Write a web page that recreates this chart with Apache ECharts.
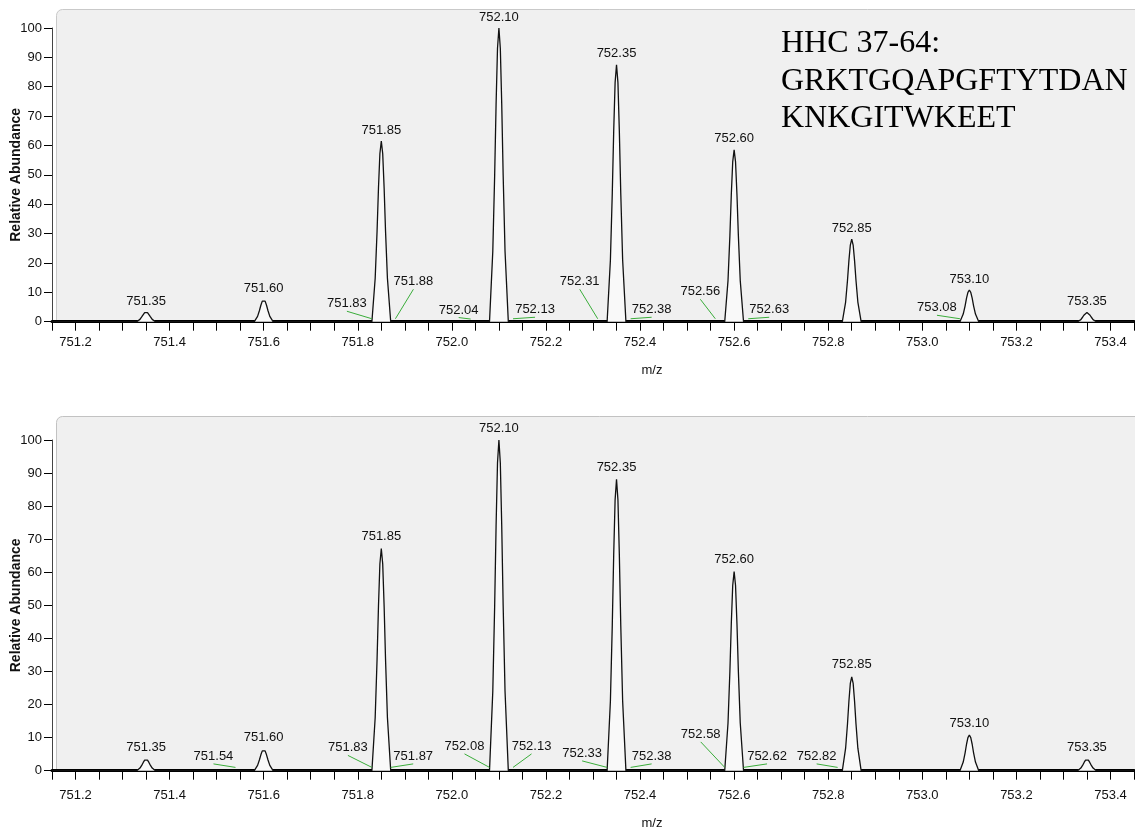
<!DOCTYPE html>
<html>
<head>
<meta charset="utf-8">
<style>
  html, body { margin: 0; padding: 0; background: #ffffff; }
  #chart { width: 1135px; height: 831px; }
</style>
<script src="https://cdn.jsdelivr.net/npm/echarts@6/dist/echarts.min.js"></script>
</head>
<body>
<div id="chart"></div>
<script>
// Isotope cluster of HHC 37-64, two acquisitions (upper / lower spectrum)

// m/z sample offsets around each peak apex (profile sampling grid)
const profileOffsets = [-0.02, -0.013, -0.009, -0.006, -0.003, 0, 0.003, 0.006, 0.009, 0.013, 0.02];

// labelled centroids and their apex abundances
const peakMz = [751.35, 751.60, 751.85, 752.10, 752.35, 752.60, 752.85, 753.10, 753.35];
const peakTopA = [3.3, 7.5, 61.5, 100, 87.5, 58.5, 28.1, 10.8, 3.1];
const peakTopB = [3.4, 6.5, 67.2, 100, 88.1, 60.2, 28.4, 10.8, 3.4];

// profile intensities on the sampling grid, one row per peak
const profileA = [
  [0, 0.8, 1.7, 2.4, 3.1, 3.3, 3.1, 2.4, 1.7, 0.8, 0],
  [0, 1.8, 3.8, 5.6, 7.0, 7.5, 7.0, 5.6, 3.8, 1.8, 0],
  [0, 14.8, 30.8, 45.5, 57.2, 61.5, 57.2, 45.5, 30.8, 14.8, 0],
  [0, 24, 50, 74, 93, 100, 93, 74, 50, 24, 0],
  [0, 21, 43.8, 64.8, 81.4, 87.5, 81.4, 64.8, 43.8, 21, 0],
  [0, 14, 29.3, 43.3, 54.4, 58.5, 54.4, 43.3, 29.3, 14, 0],
  [0, 6.7, 14.1, 20.8, 26.1, 28.1, 26.1, 20.8, 14.1, 6.7, 0],
  [0, 2.6, 5.4, 8.0, 10.0, 10.8, 10.0, 8.0, 5.4, 2.6, 0],
  [0, 0.7, 1.6, 2.3, 2.9, 3.1, 2.9, 2.3, 1.6, 0.7, 0]
];
const profileB = [
  [0, 0.8, 1.7, 2.5, 3.2, 3.4, 3.2, 2.5, 1.7, 0.8, 0],
  [0, 1.6, 3.3, 4.8, 6.0, 6.5, 6.0, 4.8, 3.3, 1.6, 0],
  [0, 16.1, 33.6, 49.7, 62.5, 67.2, 62.5, 49.7, 33.6, 16.1, 0],
  [0, 24, 50, 74, 93, 100, 93, 74, 50, 24, 0],
  [0, 21.1, 44.1, 65.2, 81.9, 88.1, 81.9, 65.2, 44.1, 21.1, 0],
  [0, 14.4, 30.1, 44.5, 56.0, 60.2, 56.0, 44.5, 30.1, 14.4, 0],
  [0, 6.8, 14.2, 21.0, 26.4, 28.4, 26.4, 21.0, 14.2, 6.8, 0],
  [0, 2.6, 5.4, 8.0, 10.0, 10.8, 10.0, 8.0, 5.4, 2.6, 0],
  [0, 0.8, 1.7, 2.5, 3.2, 3.4, 3.2, 2.5, 1.7, 0.8, 0]
];

// minor centroids annotated with leader lines
const minorMzA = [751.83, 751.88, 752.04, 752.13, 752.31, 752.38, 752.56, 752.63, 753.08];
const minorTopA = [1, 1, 0.9, 1, 1, 1, 1, 1, 1];
const minorMzB = [751.54, 751.83, 751.87, 752.08, 752.13, 752.33, 752.38, 752.58, 752.62, 752.82];
const minorTopB = [1, 1, 1, 1, 1, 1, 1, 1, 1, 1];

// label placement for the minor centroids: pixel offset of the label centre from its point
const minorLabelOffsetA = [[-25, -15], [18, -37], [-12, -9], [22, -9], [-18, -37], [21, -9], [-15, -27], [21, -9], [-23, -11]];
const minorLabelOffsetB = [[-22, -11], [-24, -19.5], [22.5, -11], [-25, -21], [18.5, -21], [-25, -14], [21, -11], [-24, -33], [23.5, -11], [-21, -11]];

const yTicks = { min: 0, max: 100, step: 10 };
const xRange = { min: 751.15, max: 753.45, step: 0.05 };

const SANS = "'Liberation Sans', Arial, sans-serif";
const TEXT = '#111111';
const LEADER = '#3aad3a';

function buildProfile(rows) {
  const pts = [[xRange.min, 0]];
  rows.forEach((row, i) => {
    row.forEach((v, j) => {
      pts.push([+(peakMz[i] + profileOffsets[j]).toFixed(4), v]);
    });
  });
  pts.push([xRange.max, 0]);
  return pts;
}

function xLabel(v) {
  const k = Math.round(v * 20);
  return k % 4 === 0 ? (k / 20).toFixed(1) : '';
}

function makeXAxis(gridIndex, margin, nameGap) {
  return {
    type: 'value', gridIndex,
    min: xRange.min, max: xRange.max, interval: xRange.step,
    name: 'm/z', nameLocation: 'middle', nameGap, nameMoveOverlap: false,
    nameTextStyle: { color: TEXT, fontFamily: SANS, fontSize: 13, padding: [0, 0, 0, 118] },
    axisLine: { show: true, onZero: false, lineStyle: { color: '#000', width: 3 } },
    axisTick: { show: true, length: 9, lineStyle: { color: '#000', width: 1 } },
    axisLabel: { formatter: xLabel, margin, color: TEXT, fontFamily: SANS, fontSize: 13,
      showMinLabel: true, showMaxLabel: true, hideOverlap: false },
    splitLine: { show: false }
  };
}

function makeYAxis(gridIndex) {
  return {
    type: 'value', gridIndex,
    min: yTicks.min, max: yTicks.max, interval: yTicks.step,
    name: 'Relative Abundance', nameLocation: 'middle', nameGap: 29, nameMoveOverlap: false,
    nameTextStyle: { color: TEXT, fontFamily: SANS, fontSize: 14, fontWeight: 'bold' },
    axisLine: { show: true, lineStyle: { color: '#444', width: 1 } },
    axisTick: { show: true, length: 8, lineStyle: { color: '#000' } },
    axisLabel: { margin: 10, color: TEXT, fontFamily: SANS, fontSize: 13 },
    splitLine: { show: false }
  };
}

// apex labels sit just above each peak
function apexRenderer(lift) {
  return function (params, api) {
    const p = api.coord([api.value(0), api.value(1)]);
    return {
      type: 'text',
      style: { text: api.value(0).toFixed(2), x: p[0], y: p[1] - lift,
        align: 'center', verticalAlign: 'middle', fill: TEXT, font: '13px ' + SANS }
    };
  };
}

// minor centroids: displaced label with a green guide line to its point
function leaderRenderer(offsets) {
  return function (params, api) {
    const p = api.coord([api.value(0), api.value(1)]);
    const off = offsets[params.dataIndex];
    const cx = p[0] + off[0];
    const cy = p[1] + off[1];
    return {
      type: 'group',
      children: [
        { type: 'line', shape: { x1: cx, y1: cy + 7.5, x2: p[0], y2: p[1] },
          style: { stroke: LEADER, lineWidth: 1 } },
        { type: 'text', style: { text: api.value(0).toFixed(2), x: cx, y: cy,
          align: 'center', verticalAlign: 'middle', fill: TEXT, font: '13px ' + SANS } }
      ]
    };
  };
}

function spectrumSeries(idx, rows, tops, minorMz, minorTop, offsets, lift) {
  return [
    {
      type: 'line', xAxisIndex: idx, yAxisIndex: idx,
      data: buildProfile(rows), symbol: 'none', silent: true,
      lineStyle: { color: '#111', width: 1.3 },
      areaStyle: { color: '#f9f9f9', opacity: 1 },
      z: 3
    },
    {
      type: 'custom', xAxisIndex: idx, yAxisIndex: idx,
      data: peakMz.map((m, i) => [m, tops[i]]),
      renderItem: apexRenderer(lift), silent: true, z: 4
    },
    {
      type: 'custom', xAxisIndex: idx, yAxisIndex: idx,
      data: minorMz.map((m, i) => [m, minorTop[i]]),
      renderItem: leaderRenderer(offsets), silent: true, z: 4
    }
  ];
}

const chart = echarts.init(document.getElementById('chart'), null, { renderer: 'canvas' });

chart.setOption({
  animation: false,
  backgroundColor: '#ffffff',
  grid: [
    { left: 52, right: 1, top: 28, height: 293.7, containLabel: false, outerBoundsMode: 'none' },
    { left: 52, right: 1, top: 440, height: 330.7, containLabel: false, outerBoundsMode: 'none' }
  ],
  xAxis: [makeXAxis(0, 14, 42), makeXAxis(1, 18, 46)],
  yAxis: [makeYAxis(0), makeYAxis(1)],
  graphic: [
    { type: 'rect', z: -10, shape: { x: 56.5, y: 9.5, width: 1090, height: 312, r: [6, 0, 0, 0] },
      style: { fill: '#f0f0f0', stroke: '#c9c9c9', lineWidth: 1 } },
    { type: 'rect', z: -10, shape: { x: 56.5, y: 416.5, width: 1090, height: 354, r: [6, 0, 0, 0] },
      style: { fill: '#f0f0f0', stroke: '#c2c2c2', lineWidth: 1 } },
    { type: 'text', z: 10, style: {
        text: 'HHC 37-64:\nGRKTGQAPGFTYTDAN\nKNKGITWKEET',
        x: 781, y: 25, font: '32px "Liberation Serif", "Times New Roman", serif',
        lineHeight: 37.5, fill: '#000', verticalAlign: 'top', align: 'left' } }
  ],
  series: [
    ...spectrumSeries(0, profileA, peakTopA, minorMzA, minorTopA, minorLabelOffsetA, 11),
    ...spectrumSeries(1, profileB, peakTopB, minorMzB, minorTopB, minorLabelOffsetB, 12)
  ]
});
</script>
</body>
</html>
